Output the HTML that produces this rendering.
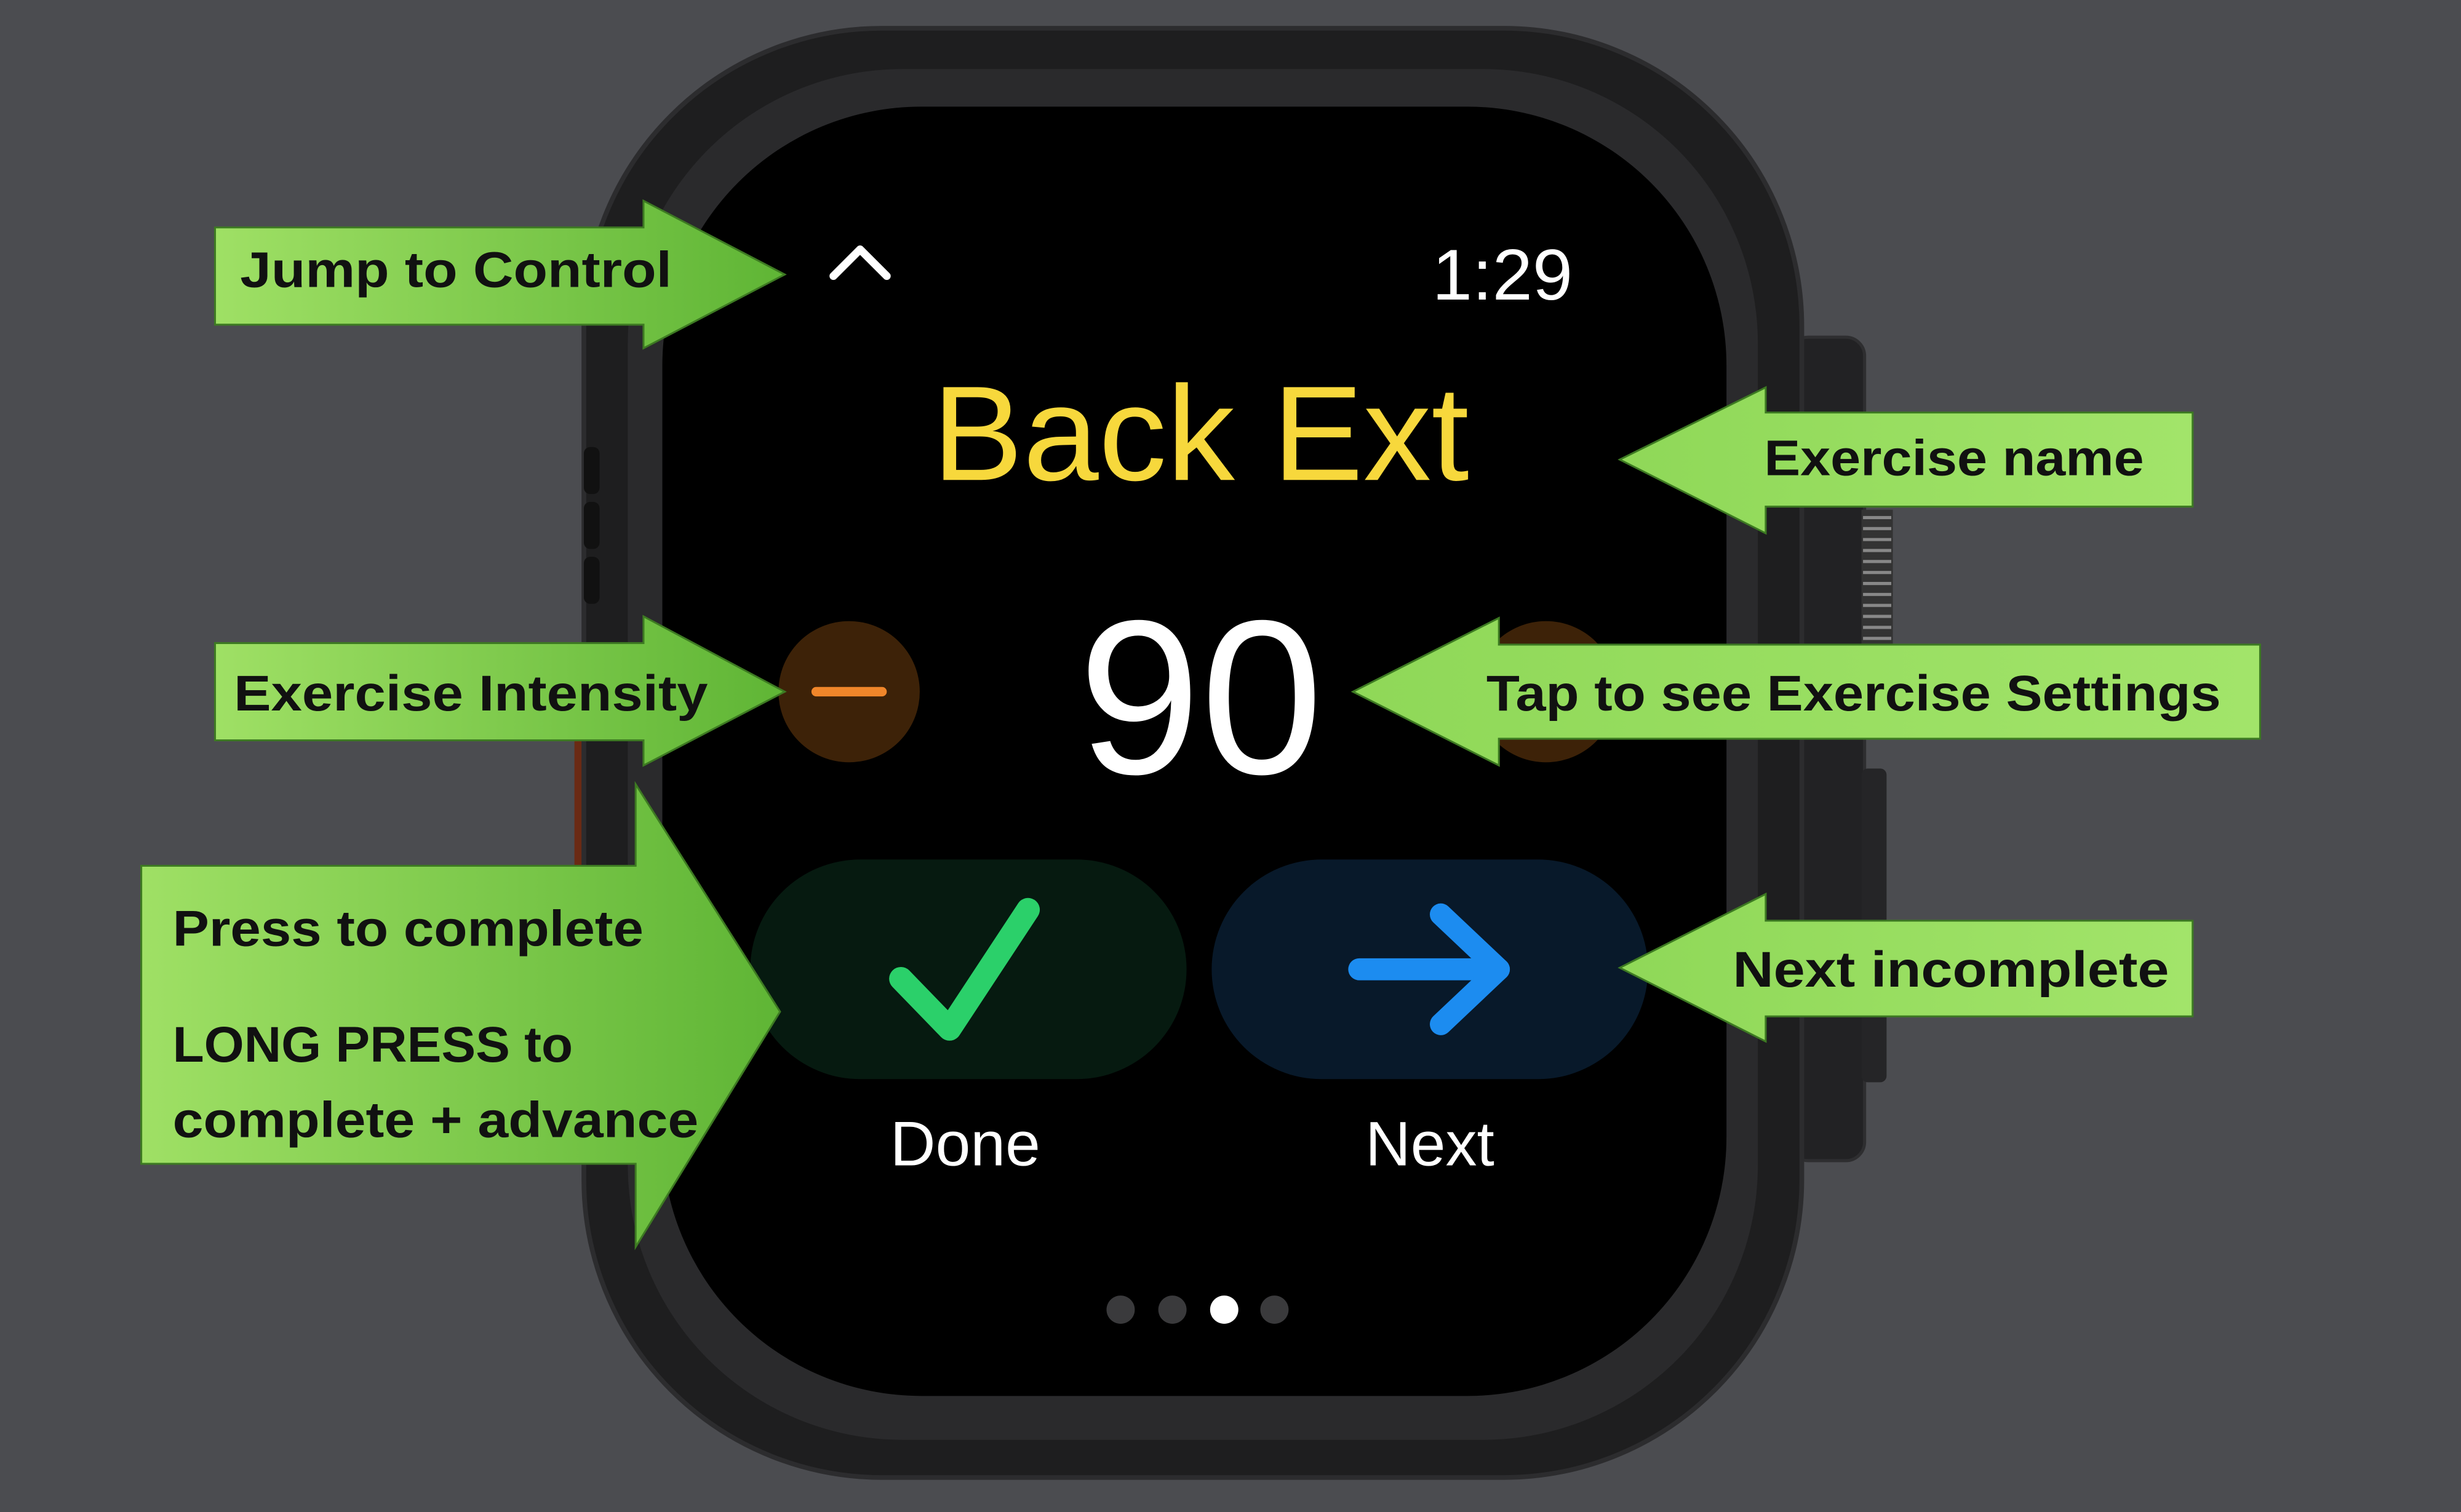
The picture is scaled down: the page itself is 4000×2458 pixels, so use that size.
<!DOCTYPE html>
<html><head><meta charset="utf-8"><style>
html,body{margin:0;padding:0;background:#4b4c50;overflow:hidden}
svg{display:block}
text{font-family:"Liberation Sans",sans-serif}
</style></head><body>
<svg width="4000" height="2458" viewBox="0 0 1568 964" preserveAspectRatio="none" xmlns="http://www.w3.org/2000/svg">
<defs>
<linearGradient id="gl" x1="0" y1="0" x2="1" y2="0"><stop offset="0" stop-color="#9fe065"/><stop offset="1" stop-color="#5fb535"/></linearGradient>
<linearGradient id="gr" x1="0" y1="0" x2="1" y2="0"><stop offset="0" stop-color="#8fd858"/><stop offset="1" stop-color="#a2e46a"/></linearGradient>
</defs>
<rect width="1568" height="964" fill="#4b4c50"/>
<!-- strap / side parts -->
<rect x="366" y="470" width="16" height="85" fill="#6a2a14"/>
<rect x="1140" y="215" width="48" height="525" rx="12" fill="#222224" stroke="#2e2e30" stroke-width="2"/>
<rect x="1186" y="490" width="16" height="200" rx="4" fill="#252527"/>
<g fill="#8a8a8a"><rect x="1186" y="325" width="20" height="86" fill="#333"/></g>
<g stroke="#888" stroke-width="2">
<line x1="1187" y1="330" x2="1205" y2="330"/><line x1="1187" y1="337" x2="1205" y2="337"/><line x1="1187" y1="344" x2="1205" y2="344"/><line x1="1187" y1="351" x2="1205" y2="351"/><line x1="1187" y1="358" x2="1205" y2="358"/><line x1="1187" y1="365" x2="1205" y2="365"/><line x1="1187" y1="372" x2="1205" y2="372"/><line x1="1187" y1="379" x2="1205" y2="379"/><line x1="1187" y1="386" x2="1205" y2="386"/><line x1="1187" y1="393" x2="1205" y2="393"/><line x1="1187" y1="400" x2="1205" y2="400"/><line x1="1187" y1="407" x2="1205" y2="407"/>
</g>
<!-- watch body -->
<rect x="372" y="18" width="776" height="924" rx="190" fill="#1e1e1f" stroke="#2c2c2e" stroke-width="3"/>
<rect x="400" y="44" width="720" height="874" rx="175" fill="#2a2a2c"/>
<rect x="422" y="68" width="678" height="822" rx="165" fill="#000"/>
<g fill="#111"><rect x="372" y="285" width="10" height="30" rx="4"/><rect x="372" y="320" width="10" height="30" rx="4"/><rect x="372" y="355" width="10" height="30" rx="4"/></g>
<!-- screen content -->
<polyline points="531,176 548,159 565,176" fill="none" stroke="#fff" stroke-width="5" stroke-linecap="round" stroke-linejoin="round"/>
<text x="1002" y="191" font-size="46" fill="#fff" text-anchor="end">1:29</text>
<text x="765" y="306" font-size="86" fill="#f7d83c" text-anchor="middle" textLength="342" lengthAdjust="spacingAndGlyphs">Back Ext</text>
<circle cx="541" cy="441" r="45" fill="#3d2208"/>
<line x1="520" y1="441" x2="562" y2="441" stroke="#f0862a" stroke-width="6" stroke-linecap="round"/>
<circle cx="985" cy="441" r="45" fill="#3d2208"/>
<text x="765" y="493" font-size="140" fill="#fff" text-anchor="middle" textLength="156" lengthAdjust="spacingAndGlyphs">90</text>
<rect x="478" y="548" width="278" height="140" rx="70" fill="#061a10"/>
<rect x="772" y="548" width="278" height="140" rx="70" fill="#08192a"/>
<polyline points="574,624 605,656 655,580" fill="none" stroke="#2bd06a" stroke-width="15" stroke-linecap="round" stroke-linejoin="round"/>
<g fill="none" stroke="#1c8cf0" stroke-width="14" stroke-linecap="round" stroke-linejoin="round"><line x1="866" y1="618" x2="955" y2="618"/><polyline points="918,583 955,618 918,653"/></g>
<text x="615" y="743" font-size="40" fill="#fff" text-anchor="middle">Done</text>
<text x="911" y="743" font-size="40" fill="#fff" text-anchor="middle">Next</text>
<circle cx="714" cy="835" r="9" fill="#3a3a3c"/><circle cx="747" cy="835" r="9" fill="#3a3a3c"/><circle cx="780" cy="835" r="9" fill="#fff"/><circle cx="812" cy="835" r="9" fill="#3a3a3c"/>
<!-- callouts -->
<g stroke="#3d7a22" stroke-width="1.2">
<polygon points="137,145 410,145 410,128 500,175 410,222 410,207 137,207" fill="url(#gl)"/>
<polygon points="137,410 410,410 410,393 500,441 410,488 410,472 137,472" fill="url(#gl)"/>
<polygon points="90,552 405,552 405,500 497,645 405,795 405,742 90,742" fill="url(#gl)"/>
<polygon points="1397,263 1125,263 1125,247 1032,293 1125,340 1125,323 1397,323" fill="url(#gr)"/>
<polygon points="1440,411 955,411 955,394 862,441 955,488 955,471 1440,471" fill="url(#gr)"/>
<polygon points="1397,587 1125,587 1125,570 1032,617 1125,664 1125,648 1397,648" fill="url(#gr)"/>
</g>
<g font-weight="bold" font-size="32" fill="#111">
<text x="153" y="183" textLength="275" lengthAdjust="spacingAndGlyphs">Jump to Control</text>
<text x="149" y="453" textLength="302" lengthAdjust="spacingAndGlyphs">Exercise Intensity</text>
<text x="110" y="603" textLength="300" lengthAdjust="spacingAndGlyphs">Press to complete</text>
<text x="110" y="677" textLength="255" lengthAdjust="spacingAndGlyphs">LONG PRESS to</text>
<text x="110" y="725" textLength="335" lengthAdjust="spacingAndGlyphs">complete + advance</text>
<text x="1124" y="303" textLength="242" lengthAdjust="spacingAndGlyphs">Exercise name</text>
<text x="947" y="453" textLength="468" lengthAdjust="spacingAndGlyphs">Tap to see Exercise Settings</text>
<text x="1104" y="629" textLength="278" lengthAdjust="spacingAndGlyphs">Next incomplete</text>
</g>
</svg>
</body></html>
